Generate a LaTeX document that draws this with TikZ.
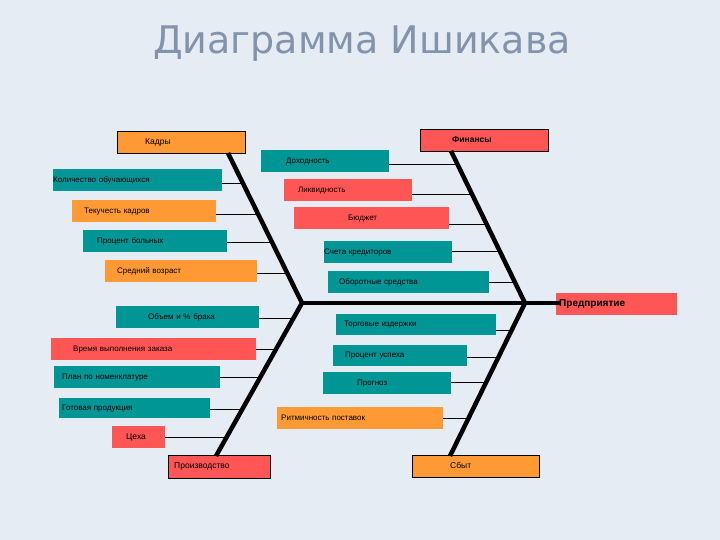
\documentclass[tikz,border=0pt]{standalone}
\usepackage{fontspec}
\setmainfont{Liberation Sans}
\newfontfamily\titlefont{DejaVu Sans}
\definecolor{bg}{RGB}{230,236,243}
\definecolor{tl}{RGB}{0,150,150}
\definecolor{rd}{RGB}{255,85,85}
\definecolor{or}{RGB}{255,153,51}
\definecolor{ttl}{RGB}{130,148,172}
\tikzset{
  box/.style={anchor=north west,inner ysep=0pt,font=\fontsize{8}{9}\selectfont,text height=6pt,text depth=2pt},
  spine/.style={line width=4.5pt},
  bone/.style={line width=0.8pt}
}
% name, x1, y1, x2, y2, colour, pad, text, extra
\newcommand\bx[9]{%
  \pgfmathsetmacro\bw{#4-#2}\pgfmathsetmacro\bh{#5-#3}\pgfmathsetmacro\tw{#4-#2-2*#7}%
  \node[box,fill=#6,minimum width=\bw pt,minimum height=\bh pt,inner xsep=#7pt,text width=\tw pt,#9] (#1) at (#2,#3) {#8};}
\begin{document}
\begin{tikzpicture}[x=1pt,y=-1pt]
\fill[bg] (0,0) rectangle (720,540);
\useasboundingbox (0,0) rectangle (720,540);
\node[font=\titlefont\fontsize{38}{42}\selectfont,text=ttl] (title) at (362,44) {Диаграмма Ишикава};
% spine coordinates
\coordinate (J1) at (302,303);
\coordinate (J2) at (525,303);
\coordinate (H) at (560,303);
\coordinate (Kt) at (228,153);
\coordinate (Ft) at (451,151);
\coordinate (Pb) at (216,456);
\coordinate (Sb) at (450,456);
% bones
\foreach \y/\n in {183/k1,214/k2,242/k3,273/k4}{\pgfmathsetmacro\xx{228+(\y-153)*74/150}\coordinate (\n) at (\xx,\y);}
\foreach \y/\n in {164/f1,194/f2,224/f3,251/f4,282/f5}{\pgfmathsetmacro\xx{451+(\y-151)*74/152}\coordinate (\n) at (\xx,\y);}
\foreach \y/\n in {318/p1,349/p2,377/p3,409/p4,437/p5}{\pgfmathsetmacro\xx{302-(\y-303)*86/153}\coordinate (\n) at (\xx,\y);}
\foreach \y/\n in {330/s1,357/s2,382/s3,418/s4}{\pgfmathsetmacro\xx{525-(\y-303)*75/153}\coordinate (\n) at (\xx,\y);}
% boxes
\bx{kadry}{117}{131}{245}{153}{or}{28}{Кадры}{draw=black,font=\fontsize{8.5}{10}\selectfont}
\bx{k1b}{53}{169}{222}{191}{tl}{0}{Количество обучающихся}{}
\bx{k2b}{72}{200}{216}{222}{or}{12}{Текучесть кадров}{}
\bx{k3b}{83}{230}{227}{252}{tl}{14}{Процент больных}{}
\bx{k4b}{105}{260}{257}{282}{or}{12}{Средний возраст}{}
\bx{fin}{420}{129}{548}{151}{rd}{32}{\textbf{Финансы}}{draw=black,font=\fontsize{8.5}{10}\selectfont}
\bx{f1b}{261}{150}{389}{172}{tl}{25}{Доходность}{}
\bx{f2b}{284}{179}{412}{201}{rd}{14}{Ликвидность}{}
\bx{f3b}{294}{207}{449}{229}{rd}{54}{Бюджет}{}
\bx{f4b}{324}{241}{452}{263}{tl}{0}{Счета кредиторов}{}
\bx{f5b}{328}{271}{489}{293}{tl}{11}{Оборотные средства}{}
\bx{pr}{556}{293}{677}{315}{rd}{3}{\textbf{Предприятие}}{font=\fontsize{10}{12}\selectfont}
\bx{p1b}{116}{306}{259}{328}{tl}{32}{Объем и \% брака}{}
\bx{p2b}{51}{338}{256}{360}{rd}{22}{Время выполнения заказа}{}
\bx{p3b}{54}{366}{220}{388}{tl}{8}{План по номенклатуре}{}
\bx{p4b}{59}{398}{210}{418}{tl}{3}{Готовая продукция}{}
\bx{p5b}{112}{426}{165}{448}{rd}{14}{Цеха}{font=\fontsize{8.5}{10}\selectfont}
\bx{proizv}{168}{455}{270}{478}{rd}{6}{Производство}{draw=black,font=\fontsize{8.5}{10}\selectfont}
\bx{s1b}{336}{314}{496}{335}{tl}{8}{Торговые издержки}{}
\bx{s2b}{333}{345}{467}{366}{tl}{12}{Процент успеха}{}
\bx{s3b}{323}{372}{451}{394}{tl}{34}{Прогноз}{}
\bx{s4b}{277}{407}{443}{429}{or}{4}{Ритмичность поставок}{}
\bx{sbyt}{412}{455}{539}{477}{or}{38}{Сбыт}{draw=black,font=\fontsize{8.5}{10}\selectfont}
% spines
\draw[spine] (Kt) -- (J1) -- (Pb);
\draw[spine] (Ft) -- (J2) -- (Sb);
\draw[spine] (J1) -- (H);
\foreach \n in {k1,k2,k3,k4}{\draw[bone] (\n b.east |- \n) -- (\n);}
\foreach \n in {f1,f2,f3,f4,f5}{\draw[bone] (\n b.east |- \n) -- (\n);}
\foreach \n in {p1,p2,p3,p4,p5}{\draw[bone] (\n b.east |- \n) -- (\n);}
\foreach \n in {s1,s2,s3,s4}{\draw[bone] (\n b.east |- \n) -- (\n);}
\end{tikzpicture}
\end{document}
